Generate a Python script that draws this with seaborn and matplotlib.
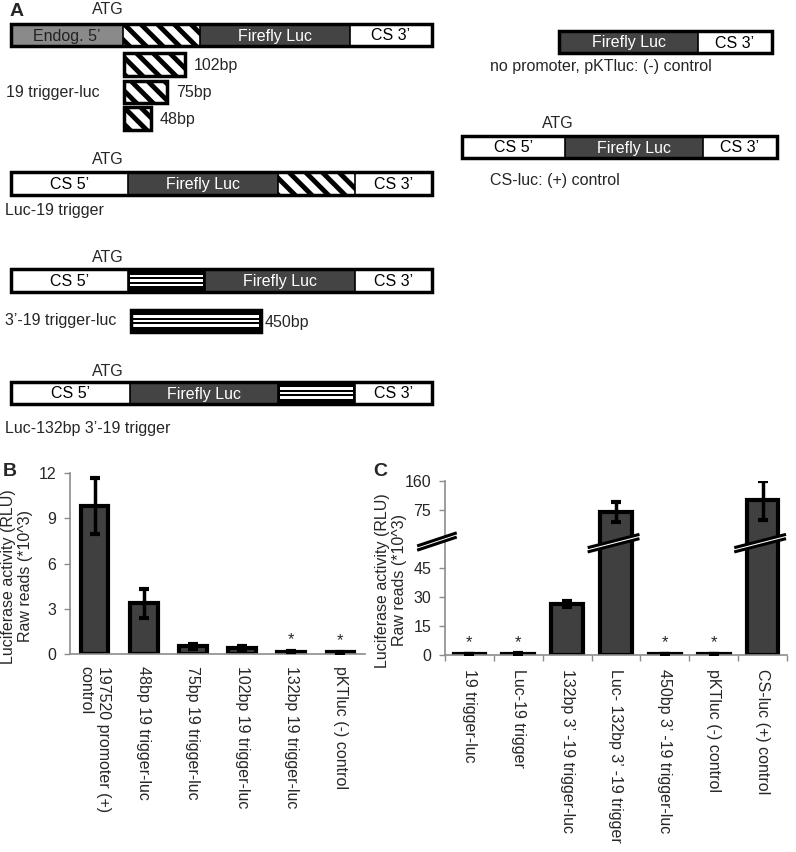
import numpy as np
import pandas as pd
import seaborn as sns
import matplotlib.pyplot as plt
from matplotlib.patches import Rectangle

# panel B data (x10^3 raw reads)
b_labels = ['197520 promoter (+)\ncontrol', '48bp 19 trigger-luc', '75bp 19 trigger-luc',
            '102bp 19 trigger-luc', '132bp 19 trigger-luc', 'pKTluc (-) control']
b_values = [9.8, 3.35, 0.5, 0.4, 0.15, 0.1]
b_err = [1.85, 0.95, 0.15, 0.12, 0.03, 0.03]
b_star = [False, False, False, False, True, True]
b_ticks = [0, 3, 6, 9, 12]

# panel C data (values on the broken axis scale)
c_labels = ['19 trigger-luc', 'Luc-19 trigger', '132bp 3\u2019 -19 trigger-luc',
            'Luc- 132bp 3\u2019 -19 trigger', '450bp 3\u2019 -19 trigger-luc',
            'pKTluc (-) control', 'CS-luc (+) control']
c_values = [0.4, 0.5, 26.5, 74, 0.4, 0.4, 80]
c_err = [0, 0.3, 1.5, 5, 0, 0, 10]
c_star = [True, True, False, False, True, True, False]
c_tick_pos = [0, 15, 30, 45, 75, 90]
c_tick_lab = ['0', '15', '30', '45', '75', '160']
c_broken = [False, False, False, True, False, False, True]

sns.set_theme(style='white')
plt.rcParams['font.family'] = ['Liberation Sans', 'DejaVu Sans']
plt.rcParams['hatch.linewidth'] = 3.5

W, H = 796, 852
FS = 11.5
fig = plt.figure(figsize=(W / 100, H / 100), dpi=100)

# ---------- panel A: construct diagrams (pixel coordinates) ----------
ax_a = fig.add_axes([0, 0, 1, 1])
ax_a.set_xlim(0, W)
ax_a.set_ylim(H, 0)
ax_a.axis('off')

fills = {'endog': '#8a8a8a', 'luc': '#444444', 'cs': 'white', 'hatch': 'white', 'stripe': 'black'}
text_col = {'endog': '#222222', 'luc': 'white', 'cs': 'black'}


def segment(x0, x1, y0, y1, kind, label=''):
    if kind == 'hatch':
        ax_a.add_patch(Rectangle((x0, y0), x1 - x0, y1 - y0, facecolor='white',
                                 edgecolor='black', hatch='\\\\', lw=0))
    elif kind == 'stripe':
        ax_a.add_patch(Rectangle((x0, y0), x1 - x0, y1 - y0, facecolor='black', lw=0))
        h = y1 - y0
        for f in (0.3, 0.5, 0.7):
            ax_a.add_patch(Rectangle((x0 + 2, y0 + f * h - 1.3), x1 - x0 - 4, 2.6,
                                     facecolor='white', lw=0))
    else:
        ax_a.add_patch(Rectangle((x0, y0), x1 - x0, y1 - y0, facecolor=fills[kind], lw=0))
    if label:
        ax_a.text((x0 + x1) / 2, (y0 + y1) / 2 + 1, label, ha='center', va='center',
                  fontsize=FS, color=text_col[kind])


def construct(segs, y0, y1):
    for x0, x1, kind, label in segs:
        segment(x0, x1, y0, y1, kind, label)
        ax_a.plot([x0, x0], [y0, y1], color='black', lw=1.2)
    ax_a.add_patch(Rectangle((segs[0][0], y0), segs[-1][1] - segs[0][0], y1 - y0,
                             fill=False, edgecolor='black', lw=2.5))


construct([(11, 123, 'endog', 'Endog. 5\u2019'), (123, 200, 'hatch', ''),
           (200, 350, 'luc', 'Firefly Luc'), (350, 432, 'cs', 'CS 3\u2019')], 24, 46)
construct([(11, 128, 'cs', 'CS 5\u2019'), (128, 278, 'luc', 'Firefly Luc'),
           (278, 355, 'hatch', ''), (355, 432, 'cs', 'CS 3\u2019')], 172, 195)
construct([(11, 128, 'cs', 'CS 5\u2019'), (128, 205, 'stripe', ''),
           (205, 355, 'luc', 'Firefly Luc'), (355, 432, 'cs', 'CS 3\u2019')], 269, 292)
construct([(11, 130, 'cs', 'CS 5\u2019'), (130, 278, 'luc', 'Firefly Luc'),
           (278, 355, 'stripe', ''), (355, 432, 'cs', 'CS 3\u2019')], 382, 404)
construct([(559, 698, 'luc', 'Firefly Luc'), (698, 772, 'cs', 'CS 3\u2019')], 31, 53)
construct([(462, 565, 'cs', 'CS 5\u2019'), (565, 703, 'luc', 'Firefly Luc'),
           (703, 777, 'cs', 'CS 3\u2019')], 136, 158)

# trigger fragments
for x1, y0, y1, lab in [(185, 53, 76, '102bp'), (167, 81, 103, '75bp'), (151, 107, 130, '48bp')]:
    ax_a.add_patch(Rectangle((124, y0), x1 - 124, y1 - y0, facecolor='white',
                             edgecolor='black', hatch='\\\\', lw=2.5))
    ax_a.text(x1 + 9, (y0 + y1) / 2 + 1, lab, ha='left', va='center', fontsize=FS)
construct([(131, 261, 'stripe', '')], 310, 332)
ax_a.text(265, 322, '450bp', ha='left', va='center', fontsize=FS)

for x, y in [(108, 10), (108, 160), (108, 257), (108, 371), (558, 124)]:
    ax_a.text(x, y, 'ATG', ha='center', va='center', fontsize=FS)

for x, y, s in [(6, 93, '19 trigger-luc'), (5, 211, 'Luc-19 trigger'),
                (5, 321, '3\u2019-19 trigger-luc'), (5, 428, 'Luc-132bp 3\u2019-19 trigger'),
                (490, 67, 'no promoter, pKTluc: (-) control'), (490, 180, 'CS-luc: (+) control')]:
    ax_a.text(x, y, s, ha='left', va='center', fontsize=FS)

for x, y, s in [(10, 12, 'A'), (3, 471, 'B'), (373, 471, 'C')]:
    ax_a.text(x, y, s, ha='left', va='center', fontsize=14, fontweight='bold')


# ---------- bar panels ----------
def px_axes(left, right, top, bottom):
    return fig.add_axes([left / W, 1 - bottom / H, (right - left) / W, (bottom - top) / H])


def style_axes(ax, label_x):
    sns.despine(ax=ax)
    for s in ('left', 'bottom'):
        ax.spines[s].set_color('#8c8c8c')
        ax.spines[s].set_linewidth(1.2)
    ax.tick_params(axis='y', length=4, width=1, color='#8c8c8c', labelsize=FS, pad=6, left=True)
    ax.set_xlabel('')
    ax.set_ylabel('Luciferase activity (RLU)\nRaw reads (*10^3)', fontsize=FS)
    ax.yaxis.set_label_coords(label_x, 0.43)
    for t in ax.get_xticklabels():
        t.set_rotation(270)
        t.set_ha('center')
        t.set_va('top')
        t.set_multialignment('left')
        t.set_fontsize(FS)


def bars(ax, labels, values, err, stars, width):
    df = pd.DataFrame({'construct': labels, 'rlu': values})
    sns.barplot(data=df, x='construct', y='rlu', color='#404040', saturation=1,
                edgecolor='black', linewidth=3, width=width, errorbar=None, ax=ax)
    x = np.arange(len(values))
    ax.errorbar(x, values, yerr=err, fmt='none', ecolor='black', elinewidth=2.5,
                capsize=3.5, capthick=3, zorder=5)
    for i, (v, s) in enumerate(zip(values, stars)):
        if s:
            ax.annotate('*', (i, v), xytext=(0, 3), textcoords='offset points',
                        ha='center', va='bottom', fontsize=12)


ax_b = px_axes(70, 365, 473, 654)
bars(ax_b, b_labels, b_values, b_err, b_star, 0.56)
ax_b.set_ylim(0, 12)
ax_b.set_yticks(b_ticks)
ax_b.set_xlim(-0.5, len(b_values) - 0.5)
ax_b.tick_params(axis='x', length=0, pad=9)
style_axes(ax_b, -0.125)

ax_c = px_axes(445, 787, 481, 655)
bars(ax_c, c_labels, c_values, c_err, c_star, 0.65)
ax_c.set_ylim(0, 90)
ax_c.set_yticks(c_tick_pos)
ax_c.set_yticklabels(c_tick_lab)
ax_c.set_xlim(-0.5, len(c_values) - 0.5)
ax_c.set_xticks(np.arange(-0.5, len(c_values), 1), minor=True)
ax_c.tick_params(axis='x', which='major', length=0, pad=10)
ax_c.tick_params(axis='x', which='minor', length=4, width=1, color='#8c8c8c', bottom=True)
style_axes(ax_c, -0.11)


def break_mark(ax, x0, x1, y0, y1, gap=2.2):
    xs = [x0, x1, x1, x0]
    ys = [y0, y1, y1 + gap, y0 + gap]
    ax.fill(xs, ys, color='white', zorder=6, clip_on=False)
    for off in (0, gap):
        ax.plot([x0, x1], [y0 + off, y1 + off], color='black', lw=2.2, zorder=7,
                clip_on=False, solid_capstyle='butt')


break_mark(ax_c, -1.07, -0.26, 54.2, 61.0)
for i, brk in enumerate(c_broken):
    if brk:
        break_mark(ax_c, i - 0.58, i + 0.48, 53.3, 60.2)

fig.savefig('out.png', dpi=100)
